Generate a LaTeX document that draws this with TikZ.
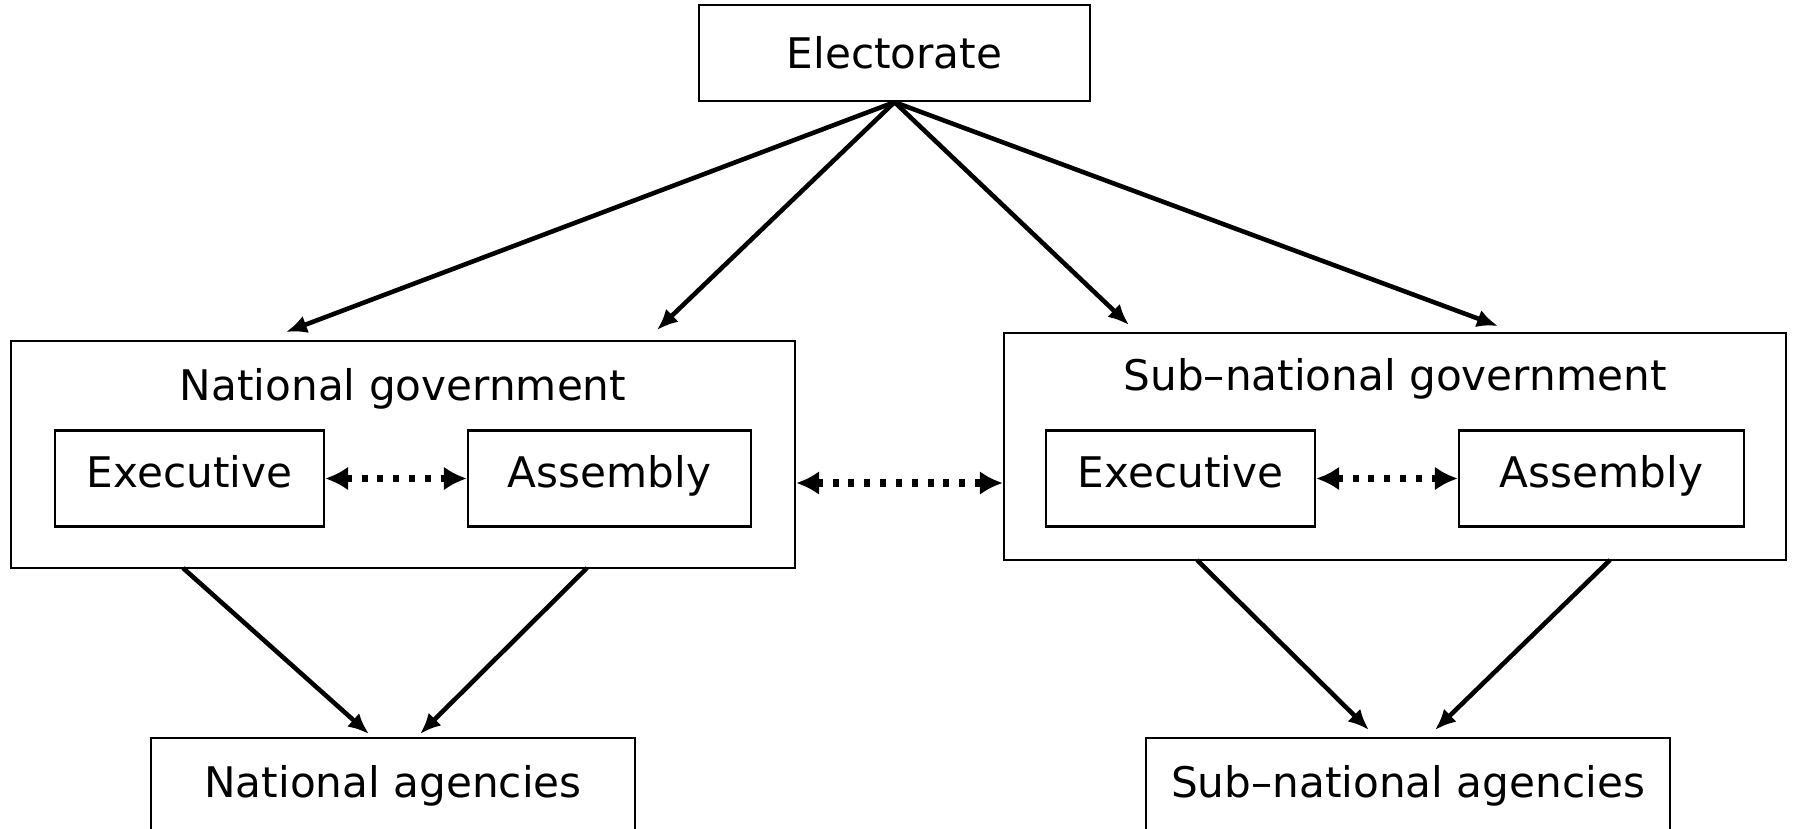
\documentclass[tikz,border=0pt]{standalone}
\usepackage{fontspec}
\setmainfont{DejaVu Sans}
\usetikzlibrary{arrows.meta, positioning, calc}

\begin{document}
\begin{tikzpicture}[
  every node/.style={font=\fontsize{12}{14}\selectfont},
  govbox/.style={rectangle, draw=black, line width=0.65pt, inner sep=0pt, minimum width=#1, minimum height=0.96cm},
  innerbox/.style={govbox=#1, text height=0.73em, text depth=0.24em},
  outerbox/.style={rectangle, draw=black, line width=0.65pt, inner sep=0pt, minimum width=#1, minimum height=2.27cm},
  linkarrow/.style={line width=1.3pt, -{Latex[length=0.21cm, width=0.18cm]}},
  dotarrow/.style={line width=2pt, line cap=butt, dash pattern=on 1.7pt off 2.8pt, {Latex[length=0.23cm, width=0.24cm]}-{Latex[length=0.23cm, width=0.24cm]}},
]
\useasboundingbox (0, 0) rectangle (17.93, -8.28);

\node[govbox=3.91cm] (elect) at (8.945, -0.53) {Electorate};

% National side
\node[outerbox=7.84cm] (natgov) at (4.03, -4.545) {};
\node (natlabel) at (4.03, -3.89) {National government};
\node[innerbox=2.69cm] (natexec) at (1.895, -4.785) {Executive};
\node[innerbox=2.83cm] (natasm) at (6.095, -4.785) {Assembly};
\node[govbox=4.84cm] (natag) at (3.93, -7.86) {National agencies};

% Sub-national side
\node[outerbox=7.82cm] (subgov) at (13.95, -4.465) {};
\node (sublabel) at (13.95, -3.785) {Sub\textendash national government};
\node[innerbox=2.69cm] (subexec) at (11.805, -4.785) {Executive};
\node[innerbox=2.85cm] (subasm) at (16.015, -4.785) {Assembly};
\node[govbox=5.24cm] (subag) at (14.08, -7.86) {Sub\textendash national agencies};

% Arrow tips
\coordinate (t1) at (2.86, -3.32);
\coordinate (t2) at (6.57, -3.30);
\coordinate (t3) at (11.29, -3.25);
\coordinate (t4) at (14.98, -3.26);
\coordinate (n1) at (1.83, -5.68);
\coordinate (n2) at (5.87, -5.68);
\coordinate (n3) at (3.69, -7.34);
\coordinate (n4) at (4.20, -7.34);
\coordinate (s1) at (11.97, -5.60);
\coordinate (s2) at (16.10, -5.60);
\coordinate (s3) at (13.69, -7.30);
\coordinate (s4) at (14.35, -7.30);

% Electorate to governments
\foreach \t in {t1, t2, t3, t4}
  \draw[linkarrow] (elect.south) -- (\t);

% Governments to agencies
\draw[linkarrow] (n1) -- (n3);
\draw[linkarrow] (n2) -- (n4);
\draw[linkarrow] (s1) -- (s3);
\draw[linkarrow] (s2) -- (s4);

% Dotted links
\draw[dotarrow] (natexec.east) -- (natasm.west);
\draw[dotarrow] (subexec.east) -- (subasm.west);
\draw[dotarrow] ($(natgov.east)+(0,-0.285)$) -- ($(subgov.west)+(0,-0.365)$);

\end{tikzpicture}
\end{document}
